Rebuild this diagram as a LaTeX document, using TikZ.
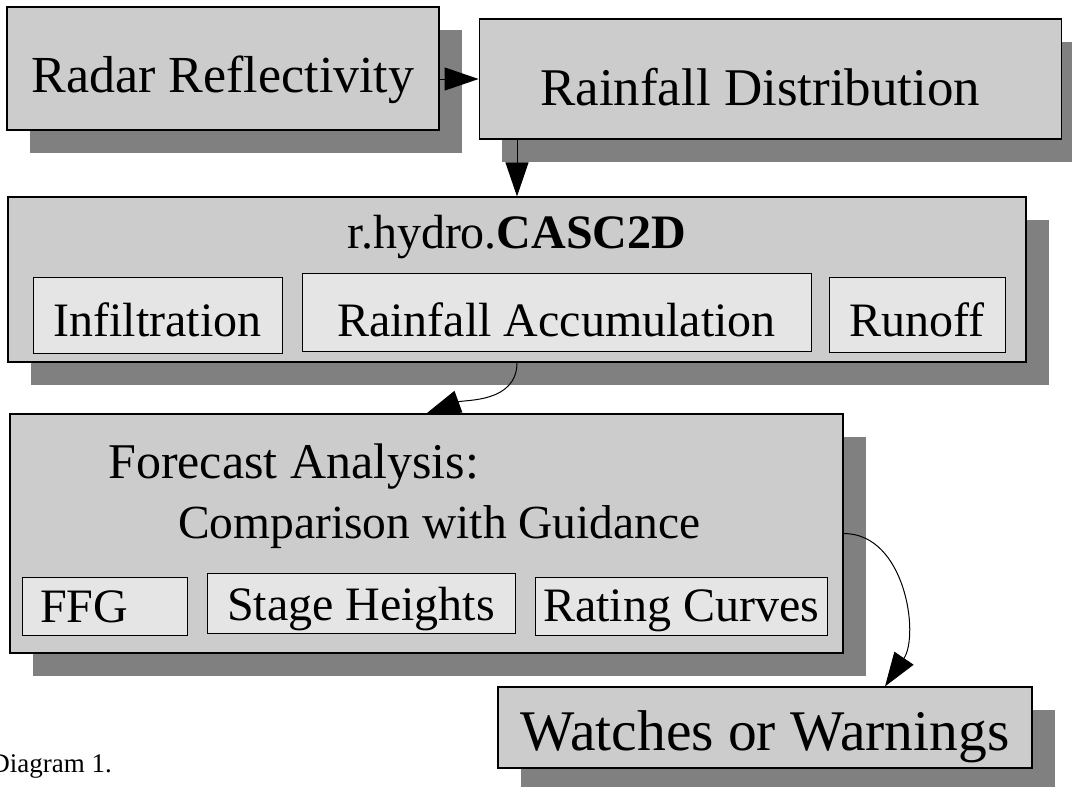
\documentclass[tikz,border=0pt]{standalone}
\usepackage{fontspec}
\setmainfont{Liberation Serif}
\usetikzlibrary{arrows.meta,positioning,shadows}
\definecolor{boxgray}{HTML}{CCCCCC}
\definecolor{partgray}{HTML}{E5E5E5}
\definecolor{shadegray}{HTML}{808080}

\begin{document}
\begin{tikzpicture}[
  x=1pt,y=1pt,
  >={Triangle[length=34pt,width=23pt]},
  panel/.style={draw=black,line width=1.2pt,fill=boxgray,inner sep=0pt,
    text depth=0pt,font=\fontsize{52}{60}\selectfont,
    drop shadow={shadow xshift=23pt,shadow yshift=-23pt,fill=shadegray,opacity=1}},
  part/.style={draw=black,line width=1pt,fill=partgray,inner sep=0pt,
    text depth=0pt,font=\fontsize{48}{56}\selectfont},
  caption/.style={inner sep=0pt,font=\fontsize{48}{56}\selectfont},
  flow/.style={->,line width=1pt}
]
  \useasboundingbox (0,0) rectangle (1072,-787);

  \node[panel,minimum width=432pt,minimum height=123pt,text height=47pt]
    (radar) at (223,-68.5) {Radar Reflectivity};
  \node[panel,minimum width=582pt,minimum height=120pt,text height=52pt,
    font=\fontsize{53}{60}\selectfont,
    right=39pt of radar,yshift=-10.5pt] (dist) {Rainfall Distribution\hspace*{20pt}};

  % model box and its parts
  \node[panel,minimum width=1018pt,minimum height=165pt] (casc) at (517,-279.5) {};
  \node[caption,anchor=base] (casctitle) at (517,-248) {r.hydro.\textbf{CASC2D}};
  \node[part,minimum width=249pt,minimum height=76pt,text height=42pt]
    (infil) at (157.5,-315) {Infiltration};
  \node[part,minimum width=509pt,minimum height=78pt,text height=48pt]
    (accum) at (556.5,-312) {Rainfall Accumulation};
  \node[part,minimum width=176pt,minimum height=75pt,text height=43pt]
    (runoff) at (917,-314.5) {Runoff};

  % forecast box and its parts
  \node[panel,minimum width=833pt,minimum height=239pt] (fcst) at (426.5,-533.5) {};
  \node[caption,anchor=base west,font=\fontsize{50}{58}\selectfont]
    (fcsthead) at (108,-478) {Forecast Analysis:};
  \node[caption,anchor=base west,font=\fontsize{47.5}{54}\selectfont]
    (fcstsub) at (178,-538) {Comparison with Guidance};
  \node[part,minimum height=58pt,text height=32pt,text width=129pt,
    align=left,inner xsep=18pt] (ffg) at (104.5,-606) {FFG};
  \node[part,minimum width=308pt,minimum height=60pt,text height=34pt]
    (stage) at (361,-603) {Stage Heights};
  \node[part,minimum width=292pt,minimum height=58pt,text height=30pt]
    (rating) at (681,-606) {Rating Curves};

  \node[panel,minimum width=534pt,minimum height=81pt,text height=45pt,
    font=\fontsize{57.5}{64}\selectfont] (watch) at (765,-727.5) {Watches or Warnings};

  \node[inner sep=0pt,anchor=base east,font=\fontsize{27}{32}\selectfont]
    (diag) at (112,-772) {Diagram 1.};

  \draw[flow] (radar.east |- dist.west) -- (dist.west);
  \draw[flow] (dist.south -| casc.north) -- (casc.north);
  \draw[flow] (casc.south) to[out=-90,in=20] (fcst.north);
  \draw[flow] (fcst.east) to[out=0,in=56] ([xshift=120pt]watch.north);
\end{tikzpicture}
\end{document}
